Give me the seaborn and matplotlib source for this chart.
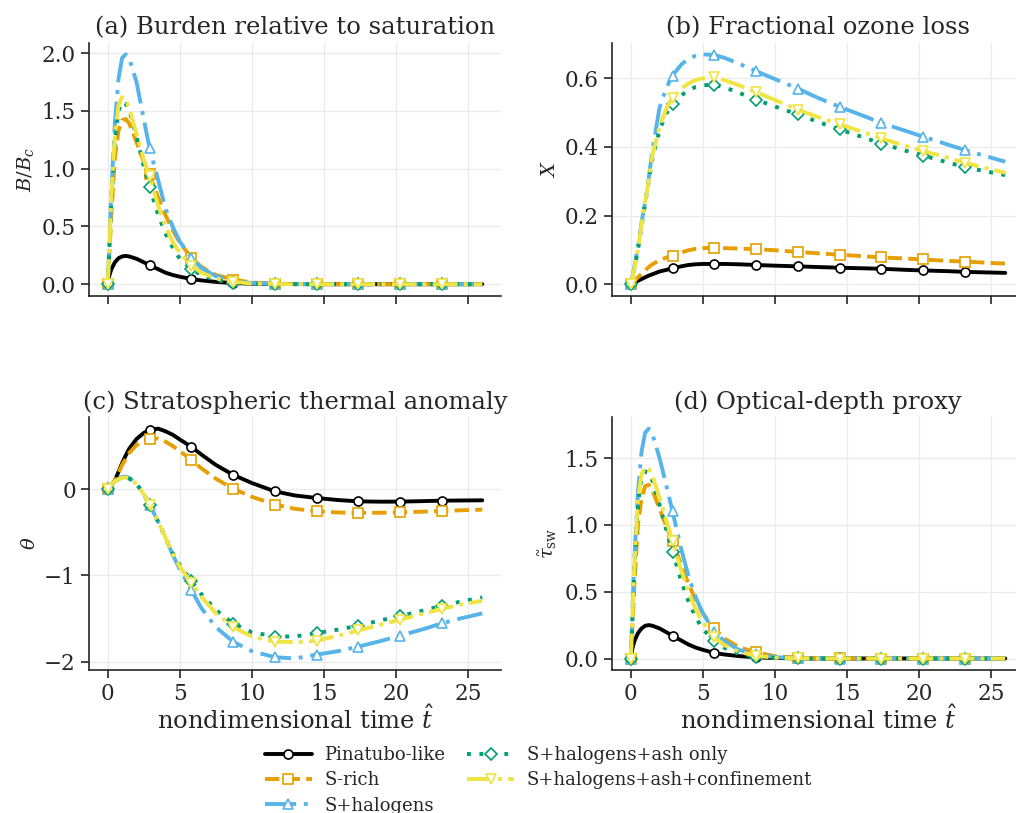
import numpy as np
import pandas as pd
import seaborn as sns
import matplotlib.pyplot as plt

# time grid (nondimensional) and values
t_hat = [0, 0.1, 0.25, 0.5, 0.75, 1.0, 1.25, 1.5, 2.0, 2.5, 2.9, 3.5, 4.0, 4.5, 5.0,
         5.8, 6.5, 7.5, 8.7, 10, 11.6, 13, 14.5, 16, 17.4, 19, 20.3, 22, 23.2, 24.5, 26]
marker_idx = [0, 10, 15, 18, 20, 22, 24, 26, 28]

scenarios = ["Pinatubo-like", "S-rich", "S+halogens", "S+halogens+ash only",
             "S+halogens+ash+confinement"]

# (a) burden relative to saturation
burden_pinatubo = [0, .07, .13, .19, .225, .24, .245, .24, .22, .19, .165, .13, .10, .08, .065,
                   .045, .033, .02, .01, .005, .002, .001, 0, 0, 0, 0, 0, 0, 0, 0, 0]
burden_srich = [0, .22, .6, 1.1, 1.33, 1.42, 1.43, 1.39, 1.23, 1.06, .95, .75, .6, .47, .36,
                .23, .15, .08, .04, .015, .005, .002, .001, 0, 0, 0, 0, 0, 0, 0, 0]
burden_shal = [0, .3, .8, 1.4, 1.78, 1.96, 1.99, 1.95, 1.75, 1.43, 1.18, .9, .66, .5, .37,
               .23, .14, .07, .03, .01, .003, .001, 0, 0, 0, 0, 0, 0, 0, 0, 0]
burden_ash = [0, .26, .7, 1.25, 1.5, 1.58, 1.56, 1.5, 1.28, 1.02, .84, .6, .44, .32, .22,
              .13, .08, .035, .012, .004, .001, 0, 0, 0, 0, 0, 0, 0, 0, 0, 0]
burden_conf = [0, .28, .75, 1.3, 1.55, 1.62, 1.6, 1.52, 1.3, 1.08, .94, .68, .5, .37, .27,
               .16, .1, .05, .02, .006, .002, 0, 0, 0, 0, 0, 0, 0, 0, 0, 0]

# (b) fractional ozone loss
ozone_pinatubo = [0, .002, .005, .01, .015, .02, .025, .029, .037, .042, .046, .052, .056, .058, .059,
                  .059, .059, .058, .056, .054, .052, .050, .048, .0465, .045, .042, .040, .038, .036, .0345, .033]
ozone_srich = [0, .004, .01, .02, .03, .04, .05, .058, .07, .078, .082, .092, .099, .103, .105,
               .106, .105, .104, .102, .099, .094, .090, .086, .082, .078, .075, .072, .068, .066, .063, .060]
ozone_shal = [0, .02, .05, .11, .18, .24, .31, .39, .515, .575, .608, .64, .657, .666, .67,
              .668, .66, .643, .621, .598, .570, .543, .517, .493, .470, .448, .430, .407, .391, .375, .357]
ozone_ash = [0, .018, .045, .10, .17, .235, .30, .365, .45, .50, .524, .55, .565, .575, .58,
             .581, .574, .558, .538, .518, .495, .473, .451, .43, .41, .39, .375, .355, .341, .33, .318]
ozone_conf = [0, .018, .045, .10, .175, .24, .305, .375, .46, .515, .543, .57, .585, .595, .60,
              .603, .595, .58, .56, .537, .509, .487, .466, .445, .425, .404, .388, .369, .354, .34, .325]

# (c) stratospheric thermal anomaly
theta_pinatubo = [0, .02, .05, .1, .2, .3, .39, .47, .58, .65, .685, .70, .67, .63, .575,
                  .49, .40, .28, .165, .07, -.027, -.075, -.104, -.128, -.143, -.147, -.146, -.14, -.135, -.133, -.131]
theta_srich = [0, .02, .05, .1, .19, .28, .35, .42, .51, .56, .577, .585, .55, .50, .44,
               .338, .24, .12, .004, -.09, -.18, -.23, -.258, -.272, -.277, -.275, -.27, -.262, -.254, -.247, -.239]
theta_shal = [0, .03, .06, .09, .12, .14, .145, .13, .06, -.06, -.18, -.38, -.56, -.76, -.93,
              -1.17, -1.38, -1.6, -1.77, -1.88, -1.95, -1.965, -1.92, -1.88, -1.827, -1.76, -1.70, -1.62, -1.557, -1.50, -1.442]
theta_ash = [0, .03, .06, .09, .115, .13, .135, .12, .06, -.06, -.18, -.38, -.56, -.74, -.88,
             -1.065, -1.22, -1.4, -1.56, -1.66, -1.71, -1.71, -1.67, -1.63, -1.585, -1.52, -1.473, -1.405, -1.354, -1.305, -1.257]
theta_conf = [0, .03, .06, .09, .115, .13, .135, .12, .06, -.06, -.18, -.38, -.56, -.75, -.9,
              -1.085, -1.25, -1.44, -1.6, -1.71, -1.77, -1.775, -1.76, -1.70, -1.64, -1.57, -1.515, -1.44, -1.39, -1.34, -1.296]

# (d) optical-depth proxy
tau_pinatubo = [0, .07, .13, .19, .225, .245, .25, .245, .225, .195, .17, .135, .105, .082, .065,
                .042, .03, .018, .009, .004, .001, 0, 0, 0, 0, 0, 0, 0, 0, 0, 0]
tau_srich = [0, .2, .55, 1.0, 1.2, 1.29, 1.3, 1.26, 1.12, .98, .88, .7, .56, .44, .34,
             .225, .15, .085, .045, .018, .006, .002, .001, 0, 0, 0, 0, 0, 0, 0, 0]
tau_shal = [0, .3, .75, 1.25, 1.55, 1.69, 1.72, 1.68, 1.5, 1.28, 1.10, .82, .62, .46, .34,
            .2, .13, .065, .03, .01, .003, .001, 0, 0, 0, 0, 0, 0, 0, 0, 0]
tau_ash = [0, .25, .65, 1.15, 1.35, 1.40, 1.39, 1.33, 1.15, .95, .8, .58, .43, .31, .22,
           .13, .08, .035, .012, .004, .001, 0, 0, 0, 0, 0, 0, 0, 0, 0, 0]
tau_conf = [0, .27, .7, 1.2, 1.38, 1.43, 1.42, 1.37, 1.2, 1.02, .88, .66, .5, .37, .27,
            .16, .1, .05, .02, .006, .002, 0, 0, 0, 0, 0, 0, 0, 0, 0, 0]

panels = [
    ("(a) Burden relative to saturation", r"$B/B_c$",
     [burden_pinatubo, burden_srich, burden_shal, burden_ash, burden_conf]),
    ("(b) Fractional ozone loss", r"$X$",
     [ozone_pinatubo, ozone_srich, ozone_shal, ozone_ash, ozone_conf]),
    ("(c) Stratospheric thermal anomaly", r"$\theta$",
     [theta_pinatubo, theta_srich, theta_shal, theta_ash, theta_conf]),
    ("(d) Optical-depth proxy", r"$\tilde{\tau}_{\mathrm{sw}}$",
     [tau_pinatubo, tau_srich, tau_shal, tau_ash, tau_conf]),
]

colors = ["#000000", "#E69F00", "#56B4E9", "#009E73", "#F0E442"]
linestyles = ["-", "--", (0, (8, 2, 1, 2)), (0, (1, 2.2)), "-."]
markers = ["o", "s", "^", "D", "v"]
marker_sizes = [6.5, 6.5, 6.5, 6, 6.5]

sns.set_theme(style="ticks", rc={"axes.grid": True, "grid.color": "#ebebeb", "grid.linewidth": 1.0})
plt.rcParams["font.family"] = ["DejaVu Serif"]
plt.rcParams["mathtext.fontset"] = "dejavuserif"

fig, axes = plt.subplots(2, 2, figsize=(10.16, 8.13), dpi=100, sharex=True)
positions = [[0.0876, 0.6363, 0.4055, 0.311], [0.6024, 0.6363, 0.4055, 0.311],
             [0.0876, 0.1759, 0.4055, 0.311], [0.6024, 0.1759, 0.4055, 0.311]]

for ax, pos, (title, ylab, series) in zip(axes.flat, positions, panels):
    ax.set_position(pos)
    for name, vals, c, ls, m, ms in zip(scenarios, series, colors, linestyles, markers, marker_sizes):
        df = pd.DataFrame({"t": t_hat, "v": vals})
        sns.lineplot(data=df, x="t", y="v", ax=ax, color=c, linestyle=ls, linewidth=2.8,
                     marker=m, markersize=ms, markerfacecolor="white", markeredgecolor=c,
                     markeredgewidth=1.2, markevery=marker_idx, label=name)
    if ax.get_legend() is not None:
        ax.get_legend().remove()
    ax.set_title(title, fontsize=17.5)
    ax.set_xlabel(r"nondimensional time $\hat{t}$", fontsize=17.5, labelpad=0)
    ax.set_ylabel(ylab, fontsize=14)
    ax.tick_params(labelsize=15.5, length=6, width=1.2)
    for s in ["left", "bottom"]:
        ax.spines[s].set_linewidth(1.2)
    sns.despine(ax=ax)

axes[1, 0].set_yticks([-2, -1, 0])
axes[1, 0].set_xticks([0, 5, 10, 15, 20, 25])

handles, labels = axes[0, 0].get_legend_handles_labels()
fig.legend(handles, labels, loc="lower center", bbox_to_anchor=(0.53, -0.022), ncol=2,
           frameon=False, fontsize=13, handlelength=2.6, handletextpad=0.7,
           labelspacing=0.41, columnspacing=1.2)

fig.savefig("out.png", dpi=100)
